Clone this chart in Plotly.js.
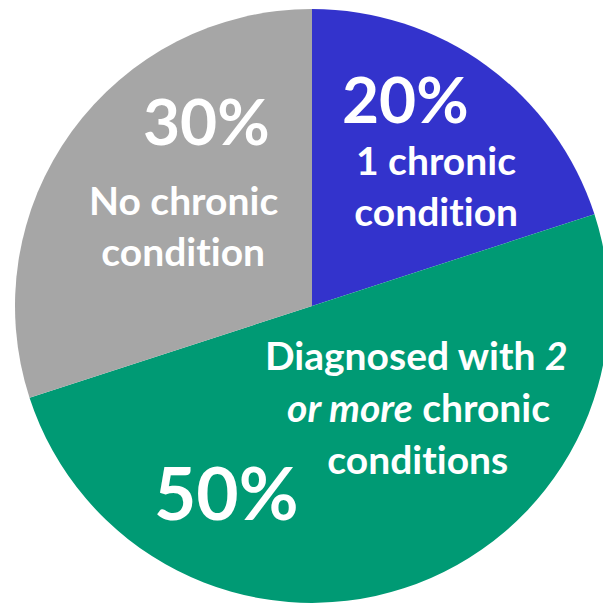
<!DOCTYPE html>
<html>
<head>
<meta charset="utf-8">
<script src="https://cdn.plot.ly/plotly-3.0.1.min.js"></script>
<style>
  html, body { margin: 0; padding: 0; background: #fff; overflow: hidden; }
  #chart { width: 620px; height: 604px; }
  #chart text { font-variant-ligatures: none; font-feature-settings: "liga" 0, "clig" 0; }
</style>
</head>
<body>
<div id="chart"></div>
<script>
// Share of people by number of diagnosed chronic conditions
const labels = ["1 chronic condition", "2 or more chronic conditions", "No chronic condition"];
const values = [20, 50, 30];
const colors = ["#3333CC", "#009A74", "#A6A6A6"];

// Text placed on each slice: percentage + description lines
const pctText = ["20%", "50%", "30%"];
const descLines = [
  ["1 chronic", "condition"],
  ["Diagnosed with <i>2</i>", "<i>or more</i> chronic", "conditions"],
  ["No chronic", "condition"]
];

const W = 620, H = 604;
const FONT = "Lato, 'Open Sans', sans-serif";
const px = (x, y) => ({ x: x / W, y: 1 - y / H });

// pixel anchors for the slice texts
const pctPos = [[405, 98, 64], [226, 492, 73], [206, 121, 64]];
const descPos = [
  [[436, 160], [436, 211]],
  [[416, 355], [418, 407], [418, 459]],
  [[183, 200], [183, 251]]
];

const annotations = [];
pctText.forEach((t, i) => {
  const p = px(pctPos[i][0], pctPos[i][1]);
  annotations.push({
    xref: "paper", yref: "paper", x: p.x, y: p.y,
    xanchor: "center", yanchor: "middle", showarrow: false,
    text: "<b>" + t + "</b>",
    font: { family: FONT, size: pctPos[i][2], color: "#ffffff" }
  });
});
descLines.forEach((lines, i) => {
  lines.forEach((line, j) => {
    const p = px(descPos[i][j][0], descPos[i][j][1]);
    annotations.push({
      xref: "paper", yref: "paper", x: p.x, y: p.y,
      xanchor: "center", yanchor: "middle", showarrow: false,
      text: "<b>" + line + "</b>",
      font: { family: FONT, size: 39, color: "#ffffff" }
    });
  });
});

const cx = 312, cy = 306, r = 297;
const trace = {
  type: "pie",
  labels: labels,
  values: values,
  sort: false,
  direction: "clockwise",
  rotation: 0,
  textinfo: "none",
  hoverinfo: "label+percent",
  marker: { colors: colors, line: { width: 0 } },
  domain: {
    x: [(cx - r) / W, (cx + r) / W],
    y: [(H - cy - r) / H, (H - cy + r) / H]
  },
  showlegend: false
};

Plotly.newPlot("chart", [trace], {
  width: W, height: H,
  margin: { l: 0, r: 0, t: 0, b: 0 },
  paper_bgcolor: "#ffffff",
  annotations: annotations
}, { displayModeBar: false, staticPlot: true });
</script>
</body>
</html>
